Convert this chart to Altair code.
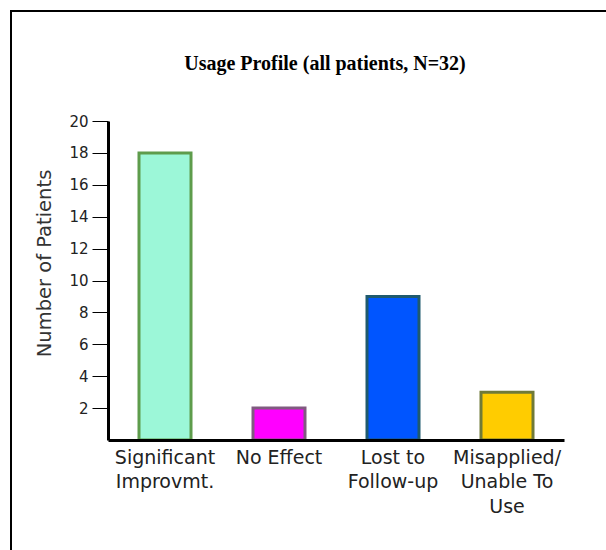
import altair as alt
import pandas as pd

categories = ["Significant\nImprovmt.", "No Effect", "Lost to\nFollow-up", "Misapplied/\nUnable To\nUse"]
patients = [18, 2, 9, 3]
fills = ["#9cf7d8", "#ff00ff", "#0055ff", "#ffcc00"]
strokes = ["#5e9c4c", "#805a80", "#1f5a6e", "#707a38"]
y_ticks = [2, 4, 6, 8, 10, 12, 14, 16, 18, 20]
title_text = ["Usage Profile (all patients, N=32)"]

df = pd.DataFrame({"cat": categories, "n": patients})

bars = alt.Chart(df).mark_bar(size=52, strokeWidth=3).encode(
    x=alt.X("cat:N", sort=categories, title=None,
            scale=alt.Scale(paddingInner=0.55, paddingOuter=0.275),
            axis=alt.Axis(labelAngle=0, labelFont="DejaVu Sans", labelFontSize=19,
                          labelColor="#222", labelLineHeight=24.5, labelPadding=8,
                          labelExpr="split(datum.label, '\\n')", labelBaseline="top",
                          ticks=False, domainColor="black", domainWidth=3, zindex=1)),
    y=alt.Y("n:Q", title="Number of Patients",
            scale=alt.Scale(domain=[0, 20], nice=False),
            axis=alt.Axis(values=y_ticks, grid=False, tickSize=16, tickColor="black",
                          tickWidth=1, labelFont="DejaVu Sans", labelFontSize=15,
                          labelColor="#222", labelPadding=4, domainColor="black",
                          domainWidth=3, titleFont="DejaVu Sans", titleFontSize=19.5,
                          titleFontWeight="normal", titleColor="#333",
                          titleX=-58, titleY=142, titleBaseline="alphabetic",
                          titleAngle=270, titleAlign="center", zindex=1)),
    fill=alt.Fill("cat:N", scale=alt.Scale(domain=categories, range=fills), legend=None),
    stroke=alt.Stroke("cat:N", scale=alt.Scale(domain=categories, range=strokes), legend=None),
)

frame_base = alt.Chart(pd.DataFrame({"a": [0]})).mark_rule(color="black", strokeWidth=2)
frame_top = frame_base.encode(x=alt.value(-98), x2=alt.value(500), y=alt.value(-110))
frame_left = frame_base.encode(x=alt.value(-97), y=alt.value(-111), y2=alt.value(432))

title = alt.Chart(pd.DataFrame({"t": title_text})).mark_text(
    font="Liberation Serif", fontSize=20, fontWeight="bold", color="black",
    align="center", baseline="alphabetic"
).encode(
    text="t:N", x=alt.value(217), y=alt.value(-51)
)

chart = alt.layer(frame_top, frame_left, title, bars).properties(
    width=456, height=319,
    autosize=alt.AutoSizeParams(type="none"),
    padding={"left": 108, "top": 121, "right": 42, "bottom": 110},
    background="white",
).configure_view(strokeWidth=0)

chart.save("out.html", embed_options={"renderer": "svg", "actions": False})
